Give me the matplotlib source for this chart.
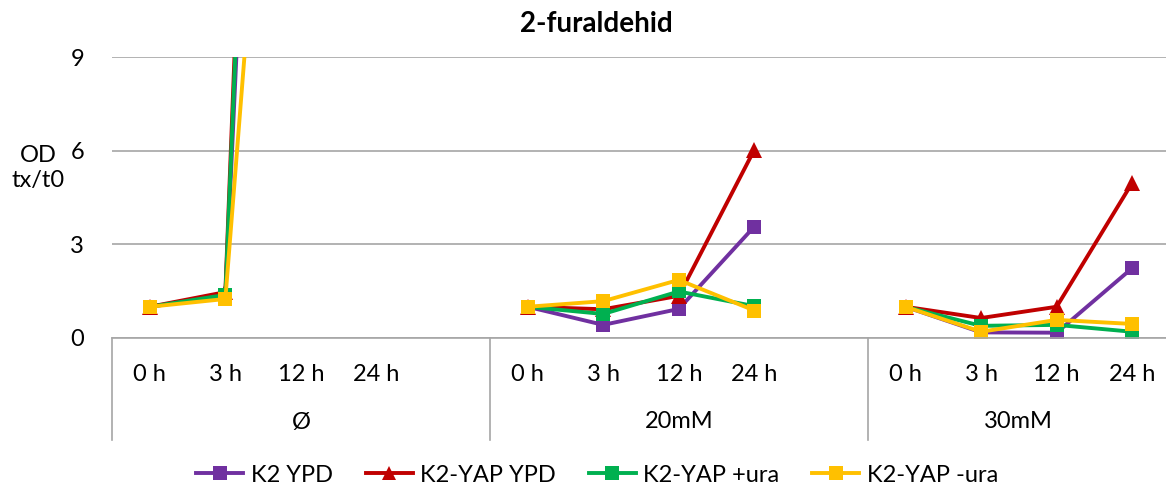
import numpy as np
import matplotlib.pyplot as plt

plt.rcParams['font.family'] = ['Lato', 'DejaVu Sans']

# DATA
groups = ["Ø", "20mM", "30mM"]
hours = ["0 h", "3 h", "12 h", "24 h"]
# Ø group has an empty 5th slot, and so does 20mM (Excel blank category)
slots_per_group = [5, 5, 4]

k2_ypd = [1.0, 1.35, 54, 60, np.nan, 1.0, 0.42, 0.93, 3.57, np.nan, 1.0, 0.18, 0.17, 2.24]
k2_yap_ypd = [1.0, 1.47, 64, 70, np.nan, 1.0, 0.92, 1.35, 6.03, np.nan, 1.0, 0.64, 1.0, 4.97]
k2_yap_plus = [1.0, 1.38, 60, 65, np.nan, 1.0, 0.77, 1.49, 1.02, np.nan, 1.0, 0.39, 0.42, 0.2]
k2_yap_minus = [1.0, 1.25, 32, 40, np.nan, 1.0, 1.18, 1.86, 0.88, np.nan, 1.0, 0.2, 0.58, 0.45]

series = [
    ("K2 YPD", k2_ypd, "#7030A0", "s"),
    ("K2-YAP YPD", k2_yap_ypd, "#C00000", "^"),
    ("K2-YAP +ura", k2_yap_plus, "#00B050", "s"),
    ("K2-YAP -ura", k2_yap_minus, "#FFC000", "s"),
]

W, H = 1166, 493
fig = plt.figure(figsize=(W / 100, H / 100), dpi=100)
ax = fig.add_axes([112 / W, (H - 338) / H, 1058 / W, 281 / H])

x = np.arange(sum(slots_per_group))
for name, vals, color, mk in series:
    ax.plot(x, vals, color=color, lw=2.8, marker=mk, ms=10.5 if mk == "s" else 11,
            markeredgewidth=0, label=name, solid_joinstyle="round")

ax.set_ylim(0, 9)
ax.set_xlim(-0.5, len(x) - 0.5)
ax.set_yticks([0, 3, 6, 9])
ax.yaxis.grid(True, color="#a6a6a6", lw=1.2)
ax.set_axisbelow(True)
for s in ["top", "right", "left"]:
    ax.spines[s].set_visible(False)
ax.spines["bottom"].set_color("#a6a6a6")
ax.spines["bottom"].set_linewidth(1.2)
ax.tick_params(axis="y", length=0, pad=20, labelsize=17)

# hour tick labels under each group
tick_pos, tick_lab, starts = [], [], []
start = 0
for n in slots_per_group:
    starts.append(start)
    for i, h in enumerate(hours):
        tick_pos.append(start + i)
        tick_lab.append(h)
    start += n
ax.set_xticks(tick_pos, tick_lab)
ax.tick_params(axis="x", length=0, pad=19, labelsize=17)

# group labels and separators
tr = ax.get_xaxis_transform()
box_bottom = -102 / 281
for g, s0, n in zip(groups, starts, slots_per_group):
    ax.plot([s0 - 0.5, s0 - 0.5], [0, box_bottom], transform=tr, color="#a6a6a6",
            lw=1.2, clip_on=False)
    ax.text(s0 + (n - 1) / 2, -84 / 281, g, transform=tr, ha="center", va="center",
            fontsize=17)
ax.plot([len(x) - 0.5] * 2, [0, box_bottom], transform=tr, color="#a6a6a6",
        lw=1.2, clip_on=False)

fig.text(596 / W, 1 - 24 / H, "2-furaldehid", ha="center", va="center",
         fontsize=20, fontweight="bold")
fig.text(38 / W, 1 - 168 / H, "OD\ntx/t0", ha="center", va="center",
         fontsize=17, linespacing=1.25)

fig.legend(loc="center", bbox_to_anchor=(597 / W, 1 - 475 / H), ncol=4,
           frameon=False, fontsize=17, handlelength=2.0, columnspacing=1.4,
           handletextpad=0.3, markerscale=0.9)

fig.savefig("out.png", dpi=100)
